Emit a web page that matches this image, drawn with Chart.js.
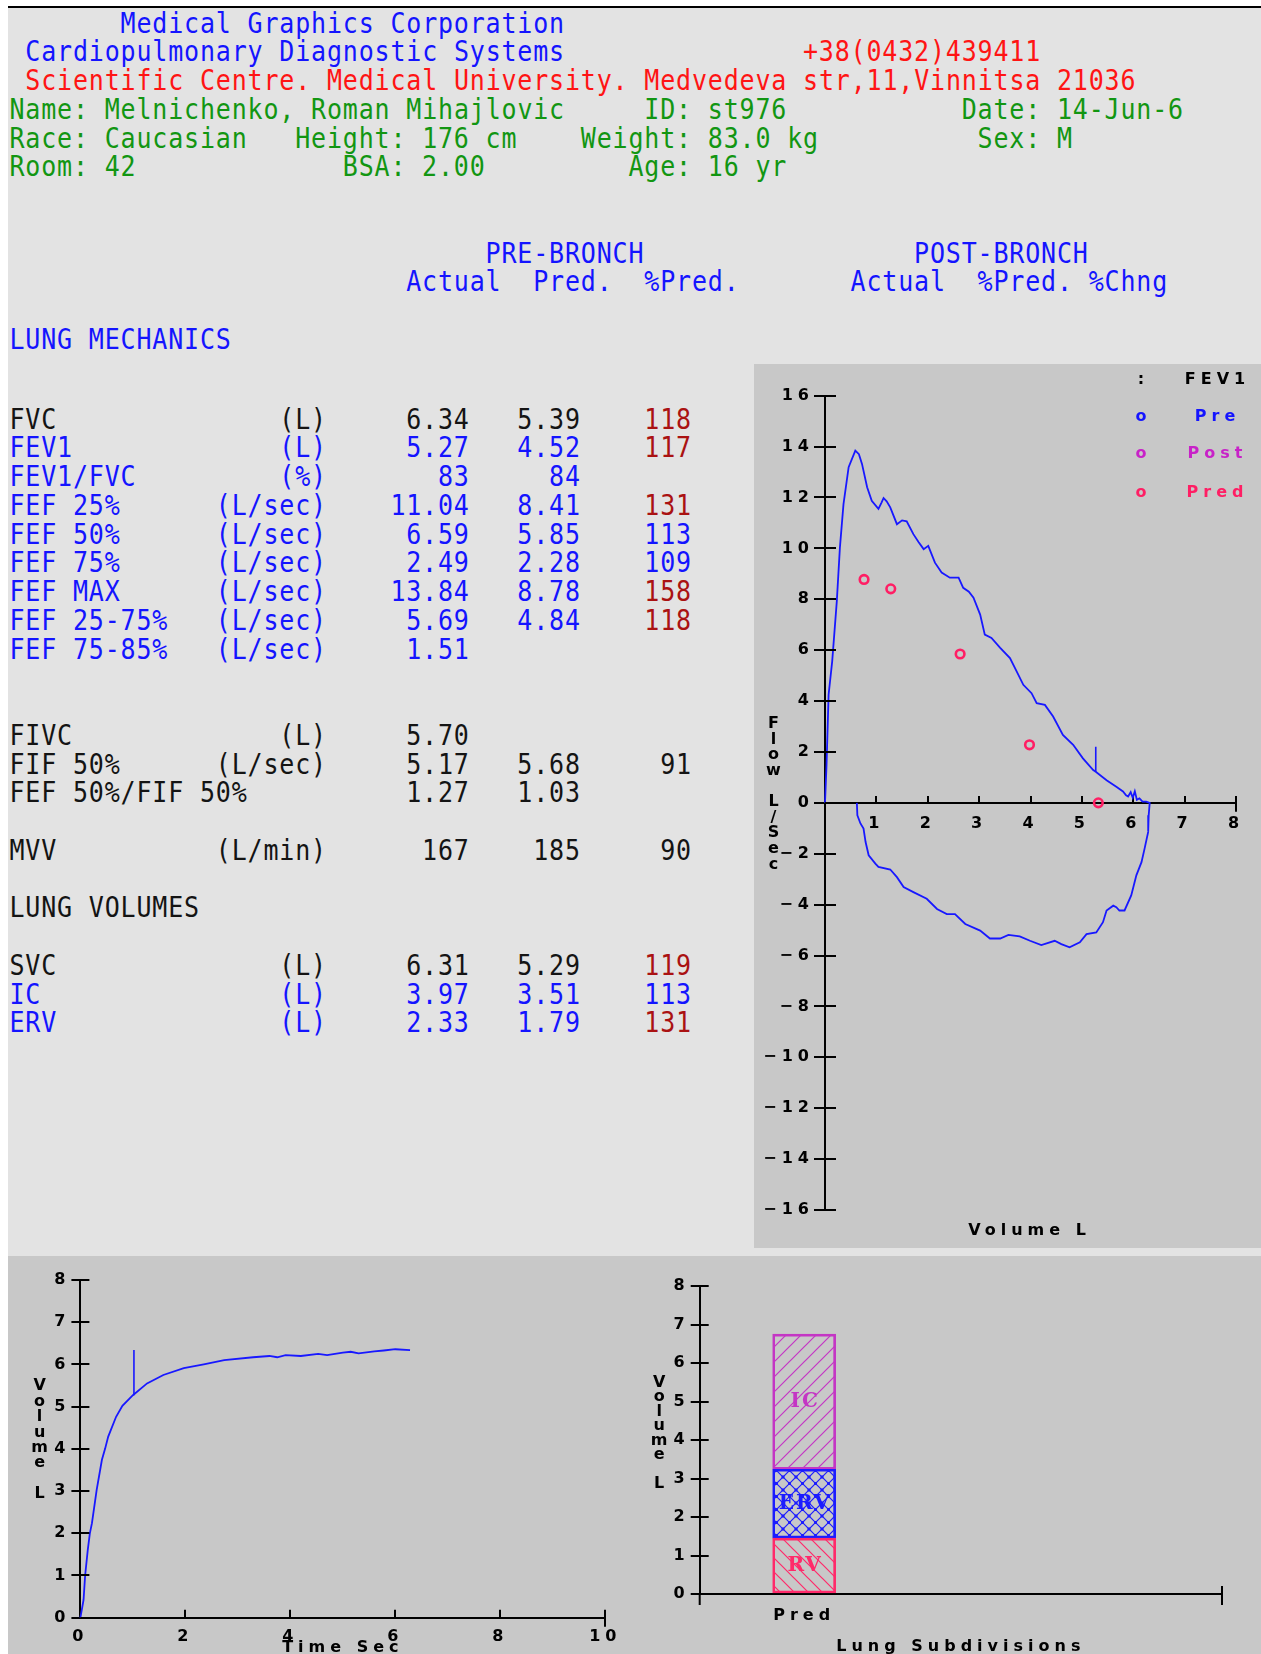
<!DOCTYPE html>
<html>
<head>
<meta charset="utf-8">
<style>
  html, body { margin: 0; padding: 0; }
  body { width: 1261px; height: 1654px; overflow: hidden; background: #fff; position: relative; }
  #sheet { position: absolute; left: 8px; top: 6px; width: 1253px; height: 1648px; background: #e3e3e3; border-top: 2px solid #000; box-sizing: border-box; }
  .panel { position: absolute; background: #c8c8c8; }
  .txt { position: absolute; font-family: "DejaVu Sans Mono", monospace; font-size: 25px; line-height: 30px;
         letter-spacing: 0.82px; white-space: pre; transform: scaleY(1.15); transform-origin: 0 15px; }
  .lbl { position: absolute; width: 200px; text-align: center; font-family: "DejaVu Sans", sans-serif; font-weight: bold;
         font-size: 16px; line-height: 18px; letter-spacing: 5px; white-space: pre; }
  .stack { position: absolute; width: 24px; text-align: center; font-family: "DejaVu Sans", sans-serif; font-weight: bold;
           font-size: 16px; white-space: pre; }
  canvas { position: absolute; }
</style>
</head>
<body>
<div id="sheet"></div>
<div class="panel" style="left:754px; top:364px; width:507px; height:884px;"></div>
<div class="panel" style="left:8px; top:1256px; width:1253px; height:398px;"></div>

<canvas id="fvChart" width="507" height="884" style="left:754px; top:364px;"></canvas>
<canvas id="vtChart" width="632" height="414" style="left:8px; top:1256px;"></canvas>
<canvas id="subChart" width="621" height="414" style="left:640px; top:1256px;"></canvas>

<script src="https://cdn.jsdelivr.net/npm/chart.js@4.4.1/dist/chart.umd.min.js"></script>
<script>
// ---------- test results ----------
var mechLabels = ['FVC', 'FEV1', 'FEV1/FVC', 'FEF 25%', 'FEF 50%', 'FEF 75%', 'FEF MAX', 'FEF 25-75%', 'FEF 75-85%',
                  'FIVC', 'FIF 50%', 'FEF 50%/FIF 50%', 'MVV'];
var mechUnits  = ['(L)', '(L)', '(%)', '(L/sec)', '(L/sec)', '(L/sec)', '(L/sec)', '(L/sec)', '(L/sec)',
                  '(L)', '(L/sec)', '', '(L/min)'];
var mechActual = ['6.34', '5.27', '83', '11.04', '6.59', '2.49', '13.84', '5.69', '1.51', '5.70', '5.17', '1.27', '167'];
var mechPred   = ['5.39', '4.52', '84', '8.41', '5.85', '2.28', '8.78', '4.84', '', '', '5.68', '1.03', '185'];
var mechPct    = ['118', '117', '', '131', '113', '109', '158', '118', '', '', '91', '', '90'];

var volLabels = ['SVC', 'IC', 'ERV'];
var volUnits  = ['(L)', '(L)', '(L)'];
var volActual = ['6.31', '3.97', '2.33'];
var volPred   = ['5.29', '3.51', '1.79'];
var volPct    = ['119', '113', '131'];

// flow-volume loop: expiration from 0 L, then inspiration back
var expVolume = [0, 0.03, 0.07, 0.14, 0.23, 0.29, 0.36, 0.46, 0.59, 0.66, 0.72, 0.82, 0.91, 1.04, 1.10, 1.14, 1.20, 1.27, 1.40, 1.50,
                 1.59, 1.72, 1.82, 1.92, 2.01, 2.14, 2.27, 2.43, 2.60, 2.69, 2.80, 2.89, 3.02, 3.11, 3.24, 3.41, 3.60, 3.73, 3.86, 4.02,
                 4.12, 4.28, 4.44, 4.63, 4.83, 5.02, 5.22, 5.27, 5.48, 5.67, 5.80, 5.86, 5.90, 5.95, 5.99, 6.03, 6.07, 6.12, 6.18, 6.25, 6.32];
var expFlow   = [0, 1.5, 4.25, 5.56, 7.93, 10.03, 11.74, 13.19, 13.84, 13.7, 13.32, 12.40, 11.87, 11.55, 11.80, 11.98, 11.85, 11.61, 10.95, 11.10,
                 11.06, 10.56, 10.25, 9.97, 10.10, 9.44, 9.05, 8.85, 8.85, 8.45, 8.30, 8.06, 7.40, 6.61, 6.48, 6.09, 5.69, 5.17, 4.64, 4.31,
                 3.92, 3.85, 3.39, 2.67, 2.28, 1.75, 1.29, 1.22, 0.89, 0.63, 0.45, 0.30, 0.25, 0.42, 0.20, 0.45, 0.12, 0.18, 0.05, 0.05, 0];
var inspVolume = [6.30, 6.29, 6.22, 6.16, 6.06, 5.96, 5.83, 5.73, 5.67, 5.61, 5.48, 5.41, 5.28, 5.09, 4.96, 4.76, 4.60, 4.47, 4.21, 3.99,
                  3.79, 3.57, 3.41, 3.21, 3.02, 2.73, 2.53, 2.37, 2.18, 1.98, 1.72, 1.53, 1.40, 1.27, 1.04, 0.98, 0.85, 0.79, 0.75, 0.69,
                  0.63, 0.62];
var inspFlow   = [-0.49, -1.14, -1.80, -2.33, -2.85, -3.64, -4.23, -4.23, -4.10, -4.04, -4.23, -4.69, -5.09, -5.16, -5.48, -5.68, -5.55, -5.42, -5.59, -5.42,
                  -5.25, -5.19, -5.33, -5.33, -5.02, -4.76, -4.37, -4.37, -4.17, -3.77, -3.51, -3.31, -2.92, -2.62, -2.52, -2.39, -2.06, -1.54, -1.01, -0.81,
                  -0.49, 0];
var fev1MarkVolume = [5.27, 5.27];
var fev1MarkFlow   = [1.22, 2.20];
var predVolume = [0.76, 1.28, 2.63, 3.98, 5.32];
var predFlow   = [8.78, 8.41, 5.85, 2.28, 0];

// volume-time curve
var vtTime   = [0, 0.06, 0.09, 0.14, 0.18, 0.22, 0.31, 0.41, 0.47, 0.53, 0.68, 0.80, 1.0, 1.27, 1.58, 1.97, 2.35, 2.74, 3.29, 3.60,
                3.75, 3.91, 4.20, 4.53, 4.70, 5.00, 5.15, 5.30, 5.60, 5.78, 6.00, 6.28];
var vtVolume = [0, 0.42, 1.00, 1.60, 2.00, 2.24, 3.03, 3.74, 4.00, 4.29, 4.76, 5.02, 5.27, 5.55, 5.75, 5.91, 6.00, 6.10, 6.17, 6.20,
                6.17, 6.22, 6.20, 6.25, 6.22, 6.28, 6.30, 6.26, 6.31, 6.33, 6.36, 6.34];
var vtMarkTime   = [1.02, 1.02];
var vtMarkVolume = [5.27, 6.34];

// lung subdivisions (predicted)
var subdivNames = ['RV', 'ERV', 'IC'];
var subdivPred  = [1.45, 1.79, 3.51];

// ---------- report text ----------
var INK = { blue: '#1414ff', red: '#ff1414', green: '#129612', black: '#141414', dark: '#aa1212' };
var COL = 15.87, X0 = 9.5;

function put(text, col, y, color) {
  var s = document.createElement('div');
  s.className = 'txt';
  s.textContent = text;
  s.style.left = (X0 + col * COL) + 'px';
  s.style.top = (y - 14.4) + 'px';
  s.style.color = color;
  document.body.appendChild(s);
}

function headRow(r) { return 23 + r * 28.75; }
function bodyRow(k) { return 419 + k * 28.75; }

put('Medical Graphics Corporation', 7, headRow(0), INK.blue);
put('Cardiopulmonary Diagnostic Systems', 1, headRow(1), INK.blue);
put('+38(0432)439411', 50, headRow(1), INK.red);
put('Scientific Centre. Medical University. Medvedeva str,11,Vinnitsa 21036', 1, headRow(2), INK.red);
put('Name: Melnichenko, Roman Mihajlovic', 0, headRow(3), INK.green);
put('ID: st976', 40, headRow(3), INK.green);
put('Date: 14-Jun-6', 60, headRow(3), INK.green);
put('Race: Caucasian', 0, headRow(4), INK.green);
put('Height: 176 cm', 18, headRow(4), INK.green);
put('Weight: 83.0 kg', 36, headRow(4), INK.green);
put('Sex: M', 61, headRow(4), INK.green);
put('Room: 42', 0, headRow(5), INK.green);
put('BSA: 2.00', 21, headRow(5), INK.green);
put('Age: 16 yr', 39, headRow(5), INK.green);

put('PRE-BRONCH', 30, headRow(8), INK.blue);
put('POST-BRONCH', 57, headRow(8), INK.blue);
put('Actual', 25, headRow(9), INK.blue);
put('Pred.', 33, headRow(9), INK.blue);
put('%Pred.', 40, headRow(9), INK.blue);
put('Actual', 53, headRow(9), INK.blue);
put('%Pred.', 61, headRow(9), INK.blue);
put('%Chng', 68, headRow(9), INK.blue);
put('LUNG MECHANICS', 0, headRow(11), INK.blue);

var blackRows = ['FVC', 'FIVC', 'FIF 50%', 'FEF 50%/FIF 50%', 'MVV', 'SVC'];

function tableRow(y, label, unit, act, pred, pct) {
  var ink = blackRows.indexOf(label) >= 0 ? INK.black : INK.blue;
  put(label, 0, y, ink);
  if (unit) put(unit, 20 - unit.length, y, ink);
  if (act) put(act, 29 - act.length, y, ink);
  if (pred) put(pred, 36 - pred.length, y, ink);
  if (pct) put(pct, 43 - pct.length, y, Number(pct) > 115 ? INK.dark : ink);
}

var mechSlots = [0, 1, 2, 3, 4, 5, 6, 7, 8, 11, 12, 13, 15];
for (var i = 0; i < mechLabels.length; i++) {
  tableRow(bodyRow(mechSlots[i]), mechLabels[i], mechUnits[i], mechActual[i], mechPred[i], mechPct[i]);
}
put('LUNG VOLUMES', 0, bodyRow(17), INK.black);
for (var j = 0; j < volLabels.length; j++) {
  tableRow(bodyRow(19 + j), volLabels[j], volUnits[j], volActual[j], volPred[j], volPct[j]);
}

// ---------- chart captions ----------
function label(text, cx, cy, color) {
  var d = document.createElement('div');
  d.className = 'lbl';
  d.textContent = text;
  d.style.left = (cx - 97.5) + 'px';
  d.style.top = (cy - 9) + 'px';
  d.style.color = color;
  document.body.appendChild(d);
}
function stacked(text, cx, firstY, step) {
  var d = document.createElement('div');
  d.className = 'stack';
  d.textContent = text.split('').join('\n');
  d.style.left = (cx - 12) + 'px';
  d.style.top = (firstY - step / 2) + 'px';
  d.style.lineHeight = step + 'px';
  document.body.appendChild(d);
}

label(':', 1141, 379, '#000');
label('FEV1', 1215, 379, '#000');
label('o', 1141, 416, '#1414ff');
label('Pre', 1215, 416, '#1414ff');
label('o', 1141, 453, '#c822c8');
label('Post', 1215, 453, '#c822c8');
label('o', 1141, 492, '#ff1e64');
label('Pred', 1215, 492, '#ff1e64');
label('Volume L', 1027, 1230, '#000');
stacked('Flow L/Sec', 773.5, 723, 15.6);
stacked('Volume L', 39.6, 1385, 15.4);
stacked('Volume L', 659.2, 1382, 14.5);

// ---------- charts ----------
var BLUE = '#1818ff';
var tickFont = { family: '"DejaVu Sans", sans-serif', size: 16, weight: 'bold' };

function pts(xs, ys) { return xs.map(function (x, k) { return { x: x, y: ys[k] }; }); }

// wide-spaced lettering plus the tick halves inside the plot and the end tick of the x axis
var axisMarks = {
  id: 'axisMarks',
  beforeDraw: function (chart) { chart.ctx.letterSpacing = '5px'; },
  afterDraw: function (chart, args, o) {
    var ctx = chart.ctx, x = chart.scales.x, y = chart.scales.y;
    var ax = y.right;
    var ay = o.xAxisAt !== undefined ? y.getPixelForValue(o.xAxisAt) : x.top;
    ctx.save();
    ctx.letterSpacing = '0px';
    ctx.strokeStyle = '#000';
    ctx.lineWidth = 2;
    ctx.beginPath();
    y.ticks.forEach(function (t) {
      var p = Math.round(y.getPixelForValue(t.value));
      ctx.moveTo(ax, p);
      ctx.lineTo(ax + o.inner, p);
    });
    var ex = Math.round(x.getPixelForValue(x.max));
    ctx.moveTo(ex, ay - o.endUp);
    ctx.lineTo(ex, ay + o.endDown);
    if (o.yBelow) { ctx.moveTo(ax, ay); ctx.lineTo(ax, ay + o.yBelow); }
    ctx.stroke();
    ctx.restore();
  }
};

function axisStyle(tickLength, drawTicks) {
  return { drawOnChartArea: false, drawTicks: drawTicks !== false, tickLength: tickLength, tickColor: '#000', tickWidth: 2, color: '#000', lineWidth: 2 };
}
var border = { display: true, color: '#000', width: 2 };

Chart.defaults.font.family = '"DejaVu Sans", sans-serif';

// flow-volume loop
new Chart(document.getElementById('fvChart'), {
  type: 'scatter',
  data: {
    datasets: [
      { label: 'Pre', data: pts(expVolume.concat(inspVolume), expFlow.concat(inspFlow)), showLine: true,
        borderColor: BLUE, borderWidth: 1.8, pointRadius: 0, tension: 0, clip: false },
      { label: 'FEV1', data: pts(fev1MarkVolume, fev1MarkFlow), showLine: true,
        borderColor: BLUE, borderWidth: 1.6, pointRadius: 0 },
      { label: 'Pred', data: pts(predVolume, predFlow), showLine: false, pointStyle: 'circle',
        pointRadius: 4.3, pointBorderWidth: 2.6, pointBorderColor: '#ff1e64', pointBackgroundColor: 'rgba(0,0,0,0)', clip: false }
    ]
  },
  options: {
    animation: false, responsive: false, devicePixelRatio: 1,
    layout: { padding: { left: 0, top: 31.7, right: 21, bottom: 38 } },
    plugins: { legend: { display: false }, tooltip: { enabled: false }, axisMarks: { inner: 11, endUp: 0, endDown: 9, xAxisAt: 0 } },
    scales: {
      x: { type: 'linear', min: 0, max: 8, position: { y: 0 },
           ticks: { stepSize: 1, autoSkip: false, maxRotation: 0, padding: 19.4, color: '#000', font: tickFont,
                    callback: function (v) { return v === 0 ? '' : v; } },
           grid: axisStyle(-8), border: border },
      y: { type: 'linear', min: -16, max: 16,
           ticks: { stepSize: 2, autoSkip: false, padding: 0, color: '#000', font: tickFont,
                    callback: function (v) { return v < 0 ? '\u2212' + (-v) : String(v); } },
           grid: axisStyle(11), border: border,
           afterFit: function (s) { s.width = 71; } }
    }
  },
  plugins: [axisMarks]
});

// volume-time curve
new Chart(document.getElementById('vtChart'), {
  type: 'scatter',
  data: {
    datasets: [
      { label: 'Volume', data: pts(vtTime, vtVolume), showLine: true, borderColor: BLUE, borderWidth: 1.8,
        pointRadius: 0, tension: 0, clip: false },
      { label: 'FEV1', data: pts(vtMarkTime, vtMarkVolume), showLine: true, borderColor: BLUE, borderWidth: 1.6, pointRadius: 0 }
    ]
  },
  options: {
    animation: false, responsive: false, devicePixelRatio: 1,
    layout: { padding: { left: 0, top: 24, right: 34.7, bottom: 0 } },
    plugins: { legend: { display: false }, tooltip: { enabled: false }, axisMarks: { inner: 9, endUp: 0, endDown: 9 } },
    scales: {
      x: { type: 'linear', min: 0, max: 10, position: 'bottom',
           ticks: { stepSize: 2, autoSkip: false, maxRotation: 0, padding: 17.4, color: '#000', font: tickFont },
           grid: axisStyle(-8), border: border,
           title: { display: true, text: 'Time Sec', color: '#000', font: tickFont, padding: { top: 0, bottom: 12.4 } },
           afterFit: function (s) { s.height = 52.3; } },
      y: { type: 'linear', min: 0, max: 8,
           ticks: { stepSize: 1, padding: 1, color: '#000', font: tickFont },
           grid: axisStyle(9), border: border,
           afterFit: function (s) { s.width = 72.4; } }
    }
  },
  plugins: [axisMarks]
});

// lung subdivisions, hatched stacked bar
var subCanvas = document.getElementById('subChart');
var subCtx = subCanvas.getContext('2d');

function hatch(color, size, dirs) {
  var c = document.createElement('canvas');
  c.width = c.height = size;
  var g = c.getContext('2d');
  g.strokeStyle = color;
  g.fillStyle = color;
  g.lineWidth = 1.2;
  dirs.forEach(function (d) {
    g.beginPath();
    if (d === '/') {
      g.moveTo(-1, size + 1); g.lineTo(size + 1, -1);
      g.moveTo(-1, 1); g.lineTo(1, -1);
      g.moveTo(size - 1, size + 1); g.lineTo(size + 1, size - 1);
    } else {
      g.moveTo(-1, -1); g.lineTo(size + 1, size + 1);
      g.moveTo(size - 1, -1); g.lineTo(size + 1, 1);
      g.moveTo(-1, size - 1); g.lineTo(1, size + 1);
    }
    g.stroke();
  });
  if (dirs.length > 1) {
    g.fillRect(size / 2 - 1.5, size / 2 - 1.5, 3, 3);
    g.fillRect(-1.5, -1.5, 3, 3); g.fillRect(size - 1.5, -1.5, 3, 3);
    g.fillRect(-1.5, size - 1.5, 3, 3); g.fillRect(size - 1.5, size - 1.5, 3, 3);
  }
  return subCtx.createPattern(c, 'repeat');
}

var subInk = ['#ff2a6a', '#1c1cff', '#c436c4'];
var subFill = [hatch('#ff2a6a', 14, ['\\']), hatch('#1c1cff', 13, ['/', '\\']), hatch('#c436c4', 15, ['/'])];

var barNames = {
  id: 'barNames',
  afterDatasetsDraw: function (chart) {
    var ctx = chart.ctx;
    ctx.save();
    ctx.letterSpacing = '2px';
    ctx.font = 'bold 20px "DejaVu Serif", serif';
    ctx.textAlign = 'center';
    ctx.textBaseline = 'middle';
    chart.data.datasets.forEach(function (ds, k) {
      var el = chart.getDatasetMeta(k).data[0];
      ctx.fillStyle = ds.borderColor;
      ctx.fillText(ds.label, el.x + 1, (el.y + el.base) / 2);
    });
    ctx.restore();
  }
};

new Chart(subCanvas, {
  type: 'bar',
  data: {
    datasets: subdivNames.map(function (name, k) {
      return { label: name, data: [{ x: 1, y: subdivPred[k] }], backgroundColor: subFill[k], borderColor: subInk[k],
               borderWidth: 2, borderSkipped: false, barThickness: 63, stack: 'pred' };
    })
  },
  options: {
    animation: false, responsive: false, devicePixelRatio: 1,
    layout: { padding: { left: 0, top: 30, right: 39, bottom: 0 } },
    plugins: { legend: { display: false }, tooltip: { enabled: false }, axisMarks: { inner: 9, endUp: 8, endDown: 11, yBelow: 11 } },
    scales: {
      x: { type: 'linear', min: 0, max: 5, stacked: true, offset: false,
           ticks: { stepSize: 1, autoSkip: false, maxRotation: 0, padding: 12.1, color: '#000', font: tickFont,
                    callback: function (v) { return v === 1 ? 'Pred' : ''; } },
           grid: axisStyle(0, false), border: border,
           title: { display: true, text: 'Lung Subdivisions', color: '#000', font: tickFont, padding: { top: 0, bottom: 13.7 } },
           afterFit: function (s) { s.height = 76; } },
      y: { type: 'linear', min: 0, max: 8, stacked: true,
           ticks: { stepSize: 1, padding: 1, color: '#000', font: tickFont },
           grid: axisStyle(9), border: border,
           afterFit: function (s) { s.width = 59.7; } }
    }
  },
  plugins: [axisMarks, barNames]
});
</script>
</body>
</html>
